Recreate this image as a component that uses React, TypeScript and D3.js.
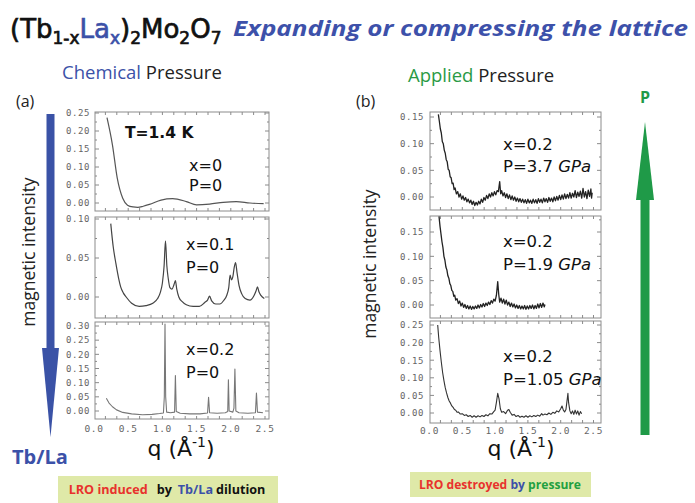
import React from 'react';
import * as d3 from 'd3';

type Pt = [number, number];

// q axis labels (shared by both panels)
const qTickValues = [0, 0.5, 1, 1.5, 2, 2.5];
const qTickLabels = ['0.0', '0.5', '1.0', '1.5', '2.0', '2.5'];

// y tick values of each frame
const ticksA1 = [0, 0.05, 0.1, 0.15, 0.2, 0.25];
const ticksA2 = [0, 0.05, 0.1];
const ticksA3 = [0, 0.05, 0.1, 0.15, 0.2, 0.25, 0.3];
const ticksB1 = [0, 0.05, 0.1, 0.15];
const ticksB2 = [0, 0.05, 0.1, 0.15];
const ticksB3 = [0, 0.05, 0.1, 0.15, 0.2, 0.25];

// (a) chemical pressure, x = 0
const seriesA1: Pt[] = [
  [0.19, 0.237], [0.27, 0.161], [0.34, 0.069], [0.42, 0.013], [0.49, -0.006], [0.57, -0.011],
  [0.64, -0.012], [0.72, -0.009], [0.81, -0.004], [0.98, 0.008], [1.15, 0.012], [1.35, 0.004],
  [1.5, -0.005], [1.69, -0.003], [1.89, 0.002], [2.08, 0.004], [2.28, 0.0], [2.48, -0.002],
];

// x = 0.1
const seriesA2: Pt[] = [
  [0.245, 0.094], [0.28, 0.065], [0.32, 0.043], [0.36, 0.024], [0.39, 0.013], [0.43, 0.005],
  [0.47, 0.0], [0.55, -0.008], [0.66, -0.012], [0.76, -0.011], [0.86, -0.008], [0.93, -0.002],
  [0.97, 0.006], [1.0, 0.018], [1.025, 0.04], [1.045, 0.072], [1.065, 0.04], [1.085, 0.024],
  [1.11, 0.012], [1.14, 0.01], [1.17, 0.016], [1.19, 0.021], [1.21, 0.01], [1.24, 0.0],
  [1.29, -0.006], [1.35, -0.01], [1.45, -0.012], [1.54, -0.012], [1.62, -0.007], [1.66, -0.004],
  [1.69, 0.001], [1.72, -0.005], [1.78, -0.009], [1.84, -0.009], [1.9, -0.004], [1.94, 0.002],
  [1.97, 0.012], [1.99, 0.028], [2.01, 0.022], [2.03, 0.026], [2.05, 0.038], [2.07, 0.044],
  [2.09, 0.032], [2.12, 0.015], [2.16, 0.004], [2.21, -0.002], [2.28, -0.004], [2.34, 0.002],
  [2.37, 0.008], [2.39, 0.013], [2.41, 0.007], [2.44, 0.002], [2.49, -0.002],
];

// x = 0.2
const seriesA3: Pt[] = [
  [0.18, 0.045], [0.22, 0.028], [0.27, 0.015], [0.33, 0.004], [0.42, -0.005], [0.55, -0.01],
  [0.71, -0.013], [0.85, -0.012], [0.96, -0.009], [1.015, -0.007], [1.028, 0.05], [1.038, 0.307],
  [1.048, 0.05], [1.062, -0.004], [1.12, -0.006], [1.178, -0.004], [1.19, 0.125], [1.203, -0.002],
  [1.26, -0.008], [1.4, -0.01], [1.55, -0.01], [1.66, -0.007], [1.675, 0.048], [1.69, -0.006],
  [1.8, -0.008], [1.92, -0.006], [1.955, -0.002], [1.965, 0.11], [1.976, 0.0], [2.03, -0.004],
  [2.046, 0.01], [2.06, 0.148], [2.074, 0.0], [2.12, -0.006], [2.25, -0.008], [2.36, -0.006],
  [2.375, 0.063], [2.39, -0.004], [2.47, -0.006],
];

// (b) applied pressure, P = 3.7 GPa
const seriesB1: Pt[] = [
  [0.135, 0.155], [0.15, 0.142], [0.165, 0.128], [0.18, 0.12], [0.195, 0.104], [0.21, 0.1],
  [0.225, 0.088], [0.24, 0.082], [0.255, 0.07], [0.27, 0.066], [0.285, 0.052], [0.3, 0.05],
  [0.315, 0.038], [0.33, 0.036], [0.345, 0.025], [0.36, 0.026], [0.375, 0.014], [0.39, 0.017],
  [0.41, 0.006], [0.43, 0.01], [0.45, 0.0], [0.47, 0.006], [0.49, -0.004], [0.51, 0.002],
  [0.53, -0.006], [0.55, -0.001], [0.57, -0.009], [0.59, -0.004], [0.61, -0.011], [0.63, -0.006],
  [0.65, -0.014], [0.67, -0.008], [0.69, -0.016], [0.71, -0.01], [0.73, -0.015], [0.75, -0.008],
  [0.77, -0.013], [0.79, -0.004], [0.81, -0.01], [0.83, -0.001], [0.85, -0.006], [0.87, 0.003],
  [0.89, -0.003], [0.91, 0.006], [0.93, 0.0], [0.95, 0.008], [0.97, 0.002], [0.99, 0.01],
  [1.01, 0.004], [1.03, 0.012], [1.05, 0.01], [1.07, 0.029], [1.085, 0.006], [1.1, 0.012],
  [1.12, 0.002], [1.14, 0.008], [1.16, -0.001], [1.18, 0.006], [1.2, -0.003], [1.22, 0.004],
  [1.24, -0.005], [1.26, 0.002], [1.28, -0.006], [1.3, 0.0], [1.32, -0.008], [1.34, -0.002],
  [1.36, -0.009], [1.38, -0.003], [1.4, -0.01], [1.42, -0.004], [1.44, -0.011], [1.46, -0.005],
  [1.48, -0.012], [1.5, -0.004], [1.52, -0.011], [1.54, -0.006], [1.56, -0.012], [1.58, -0.004],
  [1.6, -0.011], [1.62, -0.005], [1.64, -0.012], [1.66, -0.003], [1.68, -0.01], [1.7, -0.004],
  [1.72, -0.011], [1.74, -0.002], [1.76, -0.009], [1.78, -0.003], [1.8, -0.01], [1.82, -0.001],
  [1.84, -0.008], [1.86, -0.002], [1.88, -0.009], [1.9, 0.0], [1.92, -0.007], [1.94, 0.001],
  [1.96, -0.006], [1.98, 0.003], [2.0, -0.005], [2.02, 0.004], [2.04, -0.004], [2.06, 0.006],
  [2.08, -0.003], [2.1, 0.005], [2.12, -0.002], [2.14, 0.008], [2.16, -0.002], [2.18, 0.007],
  [2.2, 0.0], [2.22, 0.012], [2.24, -0.001], [2.26, 0.009], [2.28, 0.001], [2.3, 0.011],
  [2.32, -0.002], [2.34, 0.016], [2.36, 0.0], [2.38, 0.01], [2.4, -0.003], [2.42, 0.013],
  [2.44, 0.001], [2.46, 0.015], [2.47, -0.002], [2.48, 0.008],
];

// P = 1.9 GPa
const seriesB2: Pt[] = [
  [0.145, 0.182], [0.16, 0.162], [0.175, 0.146], [0.19, 0.13], [0.205, 0.118], [0.22, 0.1],
  [0.235, 0.092], [0.25, 0.078], [0.265, 0.072], [0.28, 0.06], [0.295, 0.055], [0.31, 0.044],
  [0.325, 0.04], [0.34, 0.03], [0.355, 0.028], [0.37, 0.018], [0.385, 0.02], [0.4, 0.01],
  [0.42, 0.013], [0.44, 0.003], [0.46, 0.008], [0.48, -0.002], [0.5, 0.004], [0.52, -0.005],
  [0.54, 0.001], [0.56, -0.007], [0.58, -0.001], [0.6, -0.008], [0.62, -0.002], [0.64, -0.009],
  [0.66, -0.003], [0.68, -0.008], [0.7, -0.002], [0.72, -0.007], [0.74, 0.0], [0.76, -0.006],
  [0.78, 0.001], [0.8, -0.004], [0.82, 0.003], [0.84, -0.003], [0.86, 0.004], [0.88, -0.001],
  [0.9, 0.006], [0.92, 0.001], [0.94, 0.009], [0.96, 0.004], [0.98, 0.012], [1.0, 0.008],
  [1.02, 0.02], [1.04, 0.048], [1.055, 0.022], [1.07, 0.006], [1.09, 0.014], [1.11, 0.004],
  [1.13, 0.012], [1.15, 0.002], [1.17, 0.01], [1.19, 0.0], [1.21, 0.006], [1.23, -0.003],
  [1.25, 0.004], [1.27, -0.004], [1.29, 0.002], [1.31, -0.006], [1.33, 0.0], [1.35, -0.007],
  [1.37, -0.001], [1.39, -0.008], [1.41, -0.002], [1.43, -0.008], [1.45, -0.001], [1.47, -0.009],
  [1.49, -0.002], [1.51, -0.008], [1.53, -0.001], [1.55, -0.007], [1.57, 0.0], [1.59, -0.008],
  [1.61, -0.001], [1.63, -0.007], [1.65, 0.002], [1.67, -0.006], [1.69, 0.003], [1.71, -0.005],
  [1.73, 0.004], [1.75, -0.004], [1.76, 0.001],
];

// P = 1.05 GPa
const seriesB3: Pt[] = [
  [0.125, 0.25], [0.14, 0.215], [0.16, 0.178], [0.18, 0.145], [0.2, 0.115], [0.22, 0.092],
  [0.24, 0.072], [0.26, 0.057], [0.28, 0.044], [0.3, 0.034], [0.32, 0.028], [0.34, 0.02],
  [0.36, 0.016], [0.38, 0.01], [0.4, 0.008], [0.42, 0.002], [0.44, 0.003], [0.47, -0.003],
  [0.5, -0.002], [0.53, -0.007], [0.56, -0.005], [0.59, -0.01], [0.62, -0.007], [0.65, -0.012],
  [0.68, -0.008], [0.71, -0.012], [0.74, -0.008], [0.77, -0.011], [0.8, -0.007], [0.83, -0.01],
  [0.86, -0.005], [0.89, -0.008], [0.92, -0.002], [0.95, -0.003], [0.98, 0.004], [1.0, 0.008],
  [1.02, 0.03], [1.04, 0.056], [1.06, 0.04], [1.08, 0.012], [1.1, 0.002], [1.13, 0.004],
  [1.16, -0.002], [1.19, 0.008], [1.21, 0.01], [1.23, 0.002], [1.26, -0.006], [1.29, -0.004],
  [1.32, -0.01], [1.35, -0.007], [1.38, -0.012], [1.41, -0.009], [1.44, -0.012], [1.47, -0.008],
  [1.5, -0.012], [1.53, -0.008], [1.56, -0.011], [1.59, -0.007], [1.62, -0.01], [1.65, -0.006],
  [1.68, -0.009], [1.71, -0.002], [1.73, -0.006], [1.76, -0.003], [1.79, -0.005], [1.82, 0.0],
  [1.85, -0.004], [1.88, 0.002], [1.91, -0.001], [1.94, 0.006], [1.97, 0.003], [2.0, 0.012],
  [2.02, 0.02], [2.04, 0.008], [2.06, 0.003], [2.08, 0.01], [2.1, 0.04], [2.11, 0.056],
  [2.12, 0.03], [2.14, 0.006], [2.16, -0.002], [2.18, 0.006], [2.2, -0.004], [2.22, 0.008],
  [2.24, -0.003], [2.26, 0.006], [2.28, -0.006], [2.3, 0.004], [2.32, -0.002],
];

const BLUE = '#3b51a8';
const GREEN = '#1f9a48';
const RED = '#e8322c';
const BOX = '#dfe9a8';
const COMIC = '"DejaVu Sans", sans-serif';
const SANS = '"Open Sans", "DejaVu Sans", sans-serif';
const MONO = '"DejaVu Sans Mono", monospace';

interface Frame { l: number; r: number; t: number; b: number }

interface PanelProps {
  x: d3.ScaleLinear<number, number>;
  y: d3.ScaleLinear<number, number>;
  frame: Frame;
  ticks: number[];
  data: Pt[];
  stroke: string;
  sw: number;
  curve: d3.CurveFactory;
  labelX: number;
}

const Panel: React.FC<PanelProps> = ({ x, y, frame, ticks, data, stroke, sw, curve, labelX }) => {
  const line = d3.line<Pt>().x(d => x(d[0])).y(d => y(d[1])).curve(curve);
  const step = ticks[1] - ticks[0];
  const minor = ticks.map(t => t + step / 2).filter(t => y(t) > frame.t + 2);
  const qTicks = d3.range(0, 2.6, 0.5 / 3).filter(q => x(q) > frame.l + 2 && x(q) < frame.r - 2);
  const fmt = d3.format('.2f');
  const tc = '#8a8a8a';
  return (
    <g>
      <rect x={frame.l} y={frame.t} width={frame.r - frame.l} height={frame.b - frame.t}
        fill="none" stroke="#8c8c8c" strokeWidth={1} />
      {ticks.map(t => (
        <g key={'t' + t}>
          <line x1={frame.l} x2={frame.l + 4} y1={y(t)} y2={y(t)} stroke={tc} />
          <line x1={frame.r} x2={frame.r - 4} y1={y(t)} y2={y(t)} stroke={tc} />
          <text x={labelX} y={y(t) + 3.3} textAnchor="end" fontFamily={MONO} fontSize={9}
            letterSpacing={0.6} fill="#666">{fmt(t)}</text>
        </g>
      ))}
      {minor.map(t => (
        <g key={'m' + t}>
          <line x1={frame.l} x2={frame.l + 2} y1={y(t)} y2={y(t)} stroke={tc} />
          <line x1={frame.r} x2={frame.r - 2} y1={y(t)} y2={y(t)} stroke={tc} />
        </g>
      ))}
      {qTicks.map(q => (
        <g key={'q' + q}>
          <line x1={x(q)} x2={x(q)} y1={frame.t} y2={frame.t + 3} stroke={tc} />
          <line x1={x(q)} x2={x(q)} y1={frame.b} y2={frame.b - 3} stroke={tc} />
        </g>
      ))}
      <path d={line(data) ?? ''} fill="none" stroke={stroke} strokeWidth={sw} strokeLinejoin="round" />
    </g>
  );
};

const QTickLabels: React.FC<{ x: d3.ScaleLinear<number, number>; y: number }> = ({ x, y }) => (
  <g>
    {qTickValues.map((q, i) => (
      <text key={q} x={x(q)} y={y} textAnchor="middle" fontFamily={MONO} fontSize={9.5}
        letterSpacing={0.6} fill="#666">{qTickLabels[i]}</text>
    ))}
  </g>
);

const QLabel: React.FC<{ cx: number; y: number }> = ({ cx, y }) => (
  <text x={cx} y={y} textAnchor="middle" fontFamily={COMIC} fontSize={22} fill="#111">
    q (Å<tspan fontSize={14} dy={-9}>-1</tspan><tspan dy={9}>)</tspan>
  </text>
);

const App: React.FC = () => {
  const xa = d3.scaleLinear().domain([0, 2.5]).range([94, 265]);
  const xb = d3.scaleLinear().domain([0, 2.5]).range([429.5, 593.5]);

  const fa1: Frame = { l: 95, r: 269, t: 112, b: 211 };
  const fa2: Frame = { l: 95, r: 269, t: 217, b: 318 };
  const fa3: Frame = { l: 95, r: 269, t: 322, b: 419 };
  const fb1: Frame = { l: 430, r: 601, t: 112, b: 210 };
  const fb2: Frame = { l: 430, r: 601, t: 216, b: 318 };
  const fb3: Frame = { l: 430, r: 601, t: 321, b: 423 };

  const ya1 = d3.scaleLinear().domain([0, 0.25]).range([203, 113]);
  const ya2 = d3.scaleLinear().domain([0, 0.1]).range([297, 219]);
  const ya3 = d3.scaleLinear().domain([0, 0.3]).range([411, 326]);
  const yb1 = d3.scaleLinear().domain([0, 0.15]).range([197, 117]);
  const yb2 = d3.scaleLinear().domain([0, 0.15]).range([305, 232]);
  const yb3 = d3.scaleLinear().domain([0, 0.25]).range([413, 325]);

  return (
    <svg width={695} height={503} style={{ position: 'absolute', left: 0, top: 0, background: '#fff' }}>
      {/* title */}
      <text x={10} y={38} fontFamily={COMIC} fontSize={26} fill="#111" stroke="#111" strokeWidth={0.7}>
        (Tb<tspan fontSize={17} dy={6}>1-x</tspan>
        <tspan dy={-6} fill={BLUE} stroke={BLUE}>La</tspan>
        <tspan fontSize={17} dy={6} fill={BLUE} stroke={BLUE}>x</tspan>
        <tspan dy={-6}>)</tspan><tspan fontSize={17} dy={6}>2</tspan>
        <tspan dy={-6}>Mo</tspan><tspan fontSize={17} dy={6}>2</tspan>
        <tspan dy={-6}>O</tspan><tspan fontSize={17} dy={6}>7</tspan>
      </text>
      <text x={233} y={36} fontFamily={SANS} fontSize={21} fontWeight={700} fontStyle="italic"
        fill="#3d51aa" textLength={455} lengthAdjust="spacingAndGlyphs">
        Expanding or compressing the lattice
      </text>

      {/* headers */}
      <text x={62} y={79} fontFamily={SANS} fontSize={18.5} fill="#222">
        <tspan fill={BLUE}>Chemical</tspan> Pressure
      </text>
      <text x={408} y={82} fontFamily={SANS} fontSize={18.5} fill="#222">
        <tspan fill="#2a9a44">Applied</tspan> Pressure
      </text>
      <text x={16} y={107} fontFamily={SANS} fontSize={16} fill="#222">(a)</text>
      <text x={356} y={107} fontFamily={SANS} fontSize={16} fill="#222">(b)</text>

      {/* y axis titles */}
      <text transform="translate(35,252) rotate(-90)" textAnchor="middle" fontFamily={SANS}
        fontSize={17.5} fill="#222">magnetic intensity</text>
      <text transform="translate(376,264) rotate(-90)" textAnchor="middle" fontFamily={SANS}
        fontSize={17.5} fill="#222">magnetic intensity</text>

      {/* panel (a) */}
      <Panel x={xa} y={ya1} frame={fa1} ticks={ticksA1} data={seriesA1} stroke="#555" sw={1.2}
        curve={d3.curveMonotoneX} labelX={90} />
      <Panel x={xa} y={ya2} frame={fa2} ticks={ticksA2} data={seriesA2} stroke="#444" sw={1.2}
        curve={d3.curveMonotoneX} labelX={90} />
      <Panel x={xa} y={ya3} frame={fa3} ticks={ticksA3} data={seriesA3} stroke="#777" sw={1.1}
        curve={d3.curveLinear} labelX={90} />
      <QTickLabels x={xa} y={432} />

      {/* panel (b) */}
      <Panel x={xb} y={yb1} frame={fb1} ticks={ticksB1} data={seriesB1} stroke="#222" sw={1.3}
        curve={d3.curveLinear} labelX={424} />
      <Panel x={xb} y={yb2} frame={fb2} ticks={ticksB2} data={seriesB2} stroke="#222" sw={1.3}
        curve={d3.curveLinear} labelX={424} />
      <Panel x={xb} y={yb3} frame={fb3} ticks={ticksB3} data={seriesB3} stroke="#333" sw={1.1}
        curve={d3.curveLinear} labelX={424} />
      <QTickLabels x={xb} y={434} />

      {/* annotations */}
      <text x={125} y={138} fontFamily={COMIC} fontSize={15.5} fontWeight={700} fill="#111">T=1.4 K</text>
      <g fontFamily={COMIC} fontSize={16} fill="#111">
        <text x={189} y={171}>x=0</text>
        <text x={189} y={191}>P=0</text>
        <text x={186} y={250}>x=0.1</text>
        <text x={186} y={273}>P=0</text>
        <text x={186} y={355}>x=0.2</text>
        <text x={186} y={378}>P=0</text>
      </g>
      <g fontFamily={COMIC} fontSize={16.5} fill="#111">
        <text x={503} y={150}>x=0.2</text>
        <text x={503} y={172}>P=3.7 <tspan fontStyle="italic">GPa</tspan></text>
        <text x={503} y={247}>x=0.2</text>
        <text x={503} y={270}>P=1.9 <tspan fontStyle="italic">GPa</tspan></text>
        <text x={503} y={362}>x=0.2</text>
        <text x={503} y={385}>P=1.05 <tspan fontStyle="italic">GPa</tspan></text>
      </g>

      <QLabel cx={181} y={456} />
      <QLabel cx={521} y={456} />

      {/* arrows */}
      <rect x={46.5} y={114} width={8} height={236} fill="#3a52a6" />
      <path d="M42,348 L59,348 L50.5,437 Z" fill="#3a52a6" />
      <text x={12} y={464} fontFamily={SANS} fontSize={20} fontWeight={700} fill={BLUE}>Tb/La</text>

      <rect x={640.5} y={198} width={9} height={237} fill={GREEN} />
      <path d="M636,200 L654,200 L645,122 Z" fill={GREEN} />
      <text x={645} y={103} textAnchor="middle" fontFamily={SANS} fontSize={16} fontWeight={700} fill={GREEN}>P</text>

      {/* conclusion boxes */}
      <rect x={58} y={476} width={220} height={27} fill={BOX} />
      <text x={167} y={494} textAnchor="middle" fontFamily={SANS} fontSize={12.6} fontWeight={700}>
        <tspan fill={RED}>LRO induced</tspan>
        <tspan fill="#111" dx={9}>by</tspan>
        <tspan fill={BLUE} dx={6}>Tb/La</tspan>
        <tspan fill="#111" dx={3}>dilution</tspan>
      </text>

      <rect x={410} y={472} width={181} height={25} fill={BOX} />
      <text x={500} y={489} textAnchor="middle" fontFamily={SANS} fontSize={12.1} fontWeight={700}>
        <tspan fill={RED}>LRO destroyed</tspan>
        <tspan fill={BLUE}> by </tspan>
        <tspan fill="#22a040">pressure</tspan>
      </text>
    </svg>
  );
};

export default App;
